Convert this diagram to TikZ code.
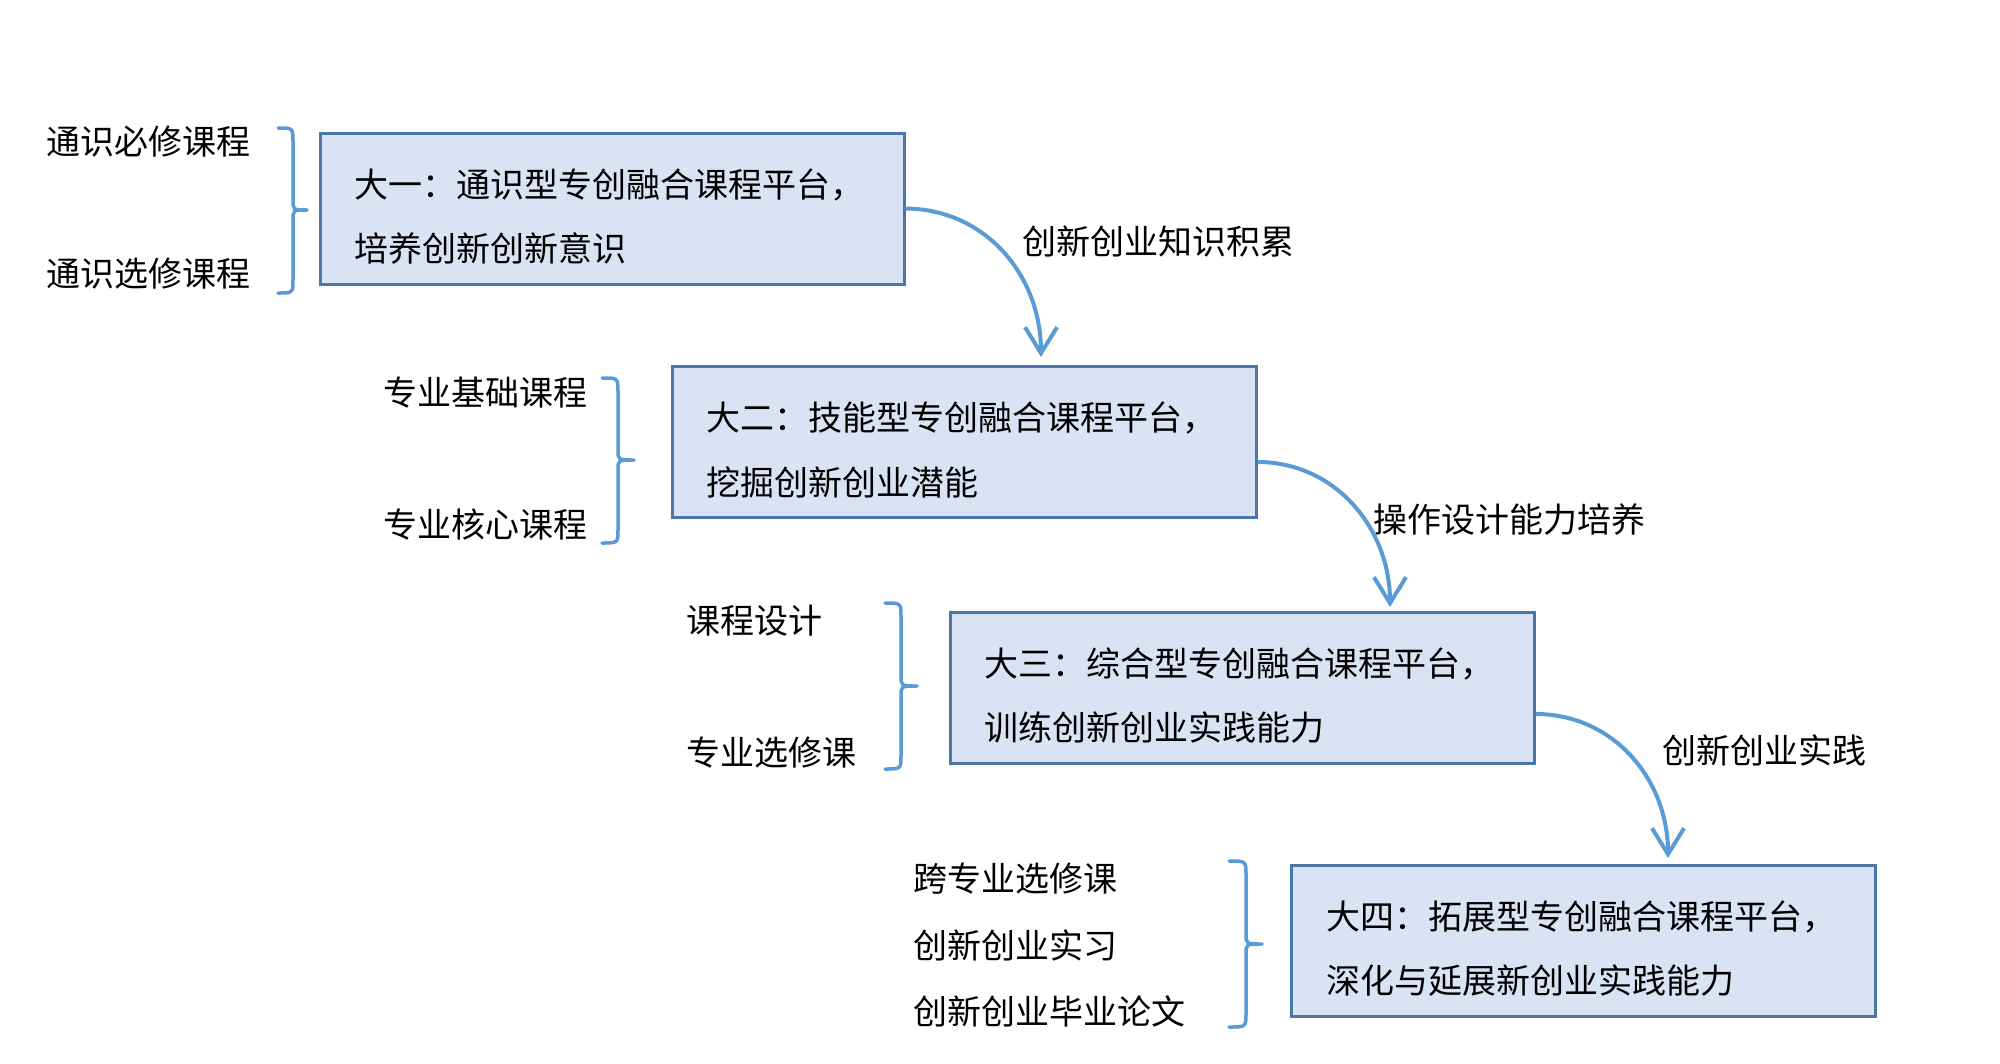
\documentclass[tikz,border=0pt]{standalone}
\usepackage{fontspec}
\setmainfont{Noto Sans CJK SC}
\usetikzlibrary{arrows.meta}
\definecolor{boxfill}{HTML}{DAE3F3}
\definecolor{boxline}{HTML}{4A76A8}
\definecolor{accent}{HTML}{5B9BD5}
\newcommand{\drawcurlybrace}[6]{%
  \draw[bracestyle] (#1,#4) .. controls (#2,#4) .. (#2,#4+14) -- (#2,#5-10)
    .. controls (#2,#5) .. (#3,#5) .. controls (#2,#5) .. (#2,#5+10)
    -- (#2,#6-14) .. controls (#2,#6) .. (#1,#6);}
\begin{document}
\begin{tikzpicture}[x=1pt,y=-1pt,
  stagebox/.style={draw=boxline, line width=3pt, fill=boxfill,
    minimum width=584pt, minimum height=151pt, inner sep=0pt},
  txt/.style={font=\fontsize{34}{40}\selectfont, anchor=west, inner sep=0pt, text=black},
  flow/.style={draw=accent, line width=4pt,
    -{Straight Barb[length=26pt,width=32pt]}},
  bracestyle/.style={draw=accent, line width=3.5pt, line cap=round, line join=round}]
\useasboundingbox[fill=white] (0,0) rectangle (2000,1063);

% stage boxes
\node[stagebox] (b1) at (612,208.5) {};
\node[stagebox] (b2) at (964,442) {};
\node[stagebox] (b3) at (1242,688) {};
\node[stagebox] (b4) at (1583.5,941) {};

% box texts
\node[txt] (t1a) at (354,185) {大一：通识型专创融合课程平台，};
\node[txt] (t1b) at (354,249) {培养创新创新意识};
\node[txt] (t2a) at (706,418) {大二：技能型专创融合课程平台，};
\node[txt] (t2b) at (706,482) {挖掘创新创业潜能};
\node[txt] (t3a) at (984,664) {大三：综合型专创融合课程平台，};
\node[txt] (t3b) at (984,728) {训练创新创业实践能力};
\node[txt] (t4a) at (1326,917) {大四：拓展型专创融合课程平台，};
\node[txt] (t4b) at (1326,981) {深化与延展新创业实践能力};

% left course labels
\node[txt] (c1a) at (46,142) {通识必修课程};
\node[txt] (c1b) at (46,274) {通识选修课程};
\node[txt] (c2a) at (383,393) {专业基础课程};
\node[txt] (c2b) at (383,525) {专业核心课程};
\node[txt] (c3a) at (686,621) {课程设计};
\node[txt] (c3b) at (686,753) {专业选修课};
\node[txt] (c4a) at (913,879) {跨专业选修课};
\node[txt] (c4b) at (913,945) {创新创业实习};
\node[txt] (c4c) at (913,1011) {创新创业毕业论文};

% braces
\drawcurlybrace{278}{293}{307}{128}{210}{293}
\drawcurlybrace{602}{618}{634}{378}{460}{543}
\drawcurlybrace{885}{901}{917}{603}{686}{769}
\drawcurlybrace{1229}{1246}{1262}{861}{944}{1027}

% arrow end points
\coordinate (e1) at (1041,357);
\coordinate (e2) at (1390,607);
\coordinate (e3) at (1668,858);

\draw[flow] (b1.east) .. controls (985,209) and (1041,275) .. (e1);
\draw[flow] ([yshift=-20pt]b2.east) .. controls (1335,462) and (1390,528) .. (e2);
\draw[flow] ([yshift=-26pt]b3.east) .. controls (1613,714) and (1668,779) .. (e3);

% arrow labels
\node[txt] (l1) at (1022,242) {创新创业知识积累};
\node[txt] (l2) at (1373,520) {操作设计能力培养};
\node[txt] (l3) at (1662,750) {创新创业实践};
\end{tikzpicture}
\end{document}
